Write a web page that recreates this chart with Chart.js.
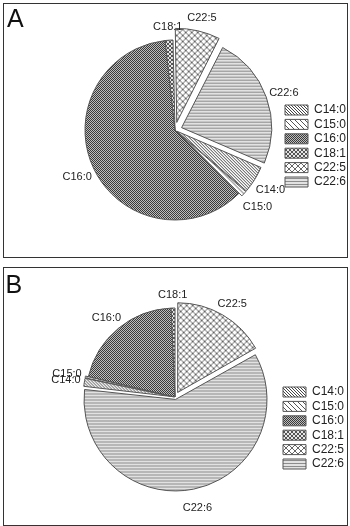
<!DOCTYPE html>
<html lang="en">
<head>
    <meta charset="UTF-8">
    <title>Fatty acid composition</title>
    <script src="https://cdn.jsdelivr.net/npm/chart.js"></script>
    <style>
        body { margin: 0; background: #fff; width: 350px; height: 526px; overflow: hidden; position: relative; }
        .panel { position: absolute; left: 3px; width: 343px; border: 1px solid #333; }
        #panel-a { top: 3px; height: 253px; }
        #panel-b { top: 267px; height: 257px; }
        canvas { display: block; }
    </style>
</head>
<body>
<div class="panel" id="panel-a"><canvas id="chart-a" width="343" height="253"></canvas></div>
<div class="panel" id="panel-b"><canvas id="chart-b" width="343" height="257"></canvas></div>

<script>
    // fatty acid share (%)
    const fattyAcids = ['C14:0', 'C15:0', 'C16:0', 'C18:1', 'C22:5', 'C22:6'];
    const percentA = [4.9, 1.1, 60.8, 1.4, 7.9, 23.9];
    const percentB = [1.5, 0.4, 20.6, 0.7, 16.8, 60.0];

    const FONT = "'Liberation Sans', Arial, sans-serif";

    function tile(ctx, n, draw) {
        const c = document.createElement('canvas');
        c.width = n; c.height = n;
        const g = c.getContext('2d');
        draw(g, n);
        return ctx.createPattern(c, 'repeat');
    }

    function hatchPatterns(ctx) {
        const diag = (n, col) => tile(ctx, n, (g) => {
            g.fillStyle = '#fff'; g.fillRect(0, 0, n, n);
            g.fillStyle = col;
            for (let i = 0; i < n; i++) g.fillRect(i, i, 1, 1);
        });
        const cross = (n, bg, col) => tile(ctx, n, (g) => {
            g.fillStyle = bg; g.fillRect(0, 0, n, n);
            g.fillStyle = col;
            for (let i = 0; i < n; i++) { g.fillRect(i, i, 1, 1); g.fillRect(i, n - 1 - i, 1, 1); }
        });
        const checker = tile(ctx, 2, (g) => {
            g.fillStyle = '#bdbdbd'; g.fillRect(0, 0, 2, 2);
            g.fillStyle = '#3a3a3a'; g.fillRect(0, 0, 1, 1); g.fillRect(1, 1, 1, 1);
        });
        const stripes = tile(ctx, 3, (g) => {
            g.fillStyle = '#e2e2e2'; g.fillRect(0, 0, 3, 3);
            g.fillStyle = '#8c8c8c'; g.fillRect(0, 0, 3, 1);
        });
        return [diag(3, '#444'), diag(5, '#555'), checker, cross(4, '#e6e6e6', '#555'), cross(6, '#fff', '#666'), stripes];
    }

    // same shift as ArcElement.draw applies for an offset
    function arcShift(arc) {
        const off = arc.options.offset || 0;
        const circ = arc.endAngle - arc.startAngle;
        return off / 4 * (2 - Math.sin(Math.min(Math.PI, circ)));
    }

    const sliceLabels = {
        id: 'sliceLabels',
        afterDatasetsDraw(chart) {
            const ctx = chart.ctx;
            const meta = chart.getDatasetMeta(0);
            ctx.save();
            ctx.font = '11px ' + FONT;
            ctx.fillStyle = '#222';
            ctx.textAlign = 'center';
            ctx.textBaseline = 'middle';
            meta.data.forEach((arc, i) => {
                const mid = (arc.startAngle + arc.endAngle) / 2;
                const dx = Math.cos(mid), dy = Math.sin(mid);
                const r = arc.outerRadius + arcShift(arc) + 2;
                const text = chart.data.labels[i];
                const w = ctx.measureText(text).width;
                const x = arc.x + dx * r + dx * (w / 2 + 2);
                const y = arc.y + dy * r + dy * (dy > 0 ? 17 : 11);
                ctx.fillText(text, x, y);
            });
            ctx.restore();
        }
    };

    const panelLetter = {
        id: 'panelLetter',
        afterDraw(chart, args, opts) {
            const ctx = chart.ctx;
            ctx.save();
            ctx.font = '25px ' + FONT;
            ctx.fillStyle = '#111';
            ctx.textBaseline = 'alphabetic';
            ctx.fillText(opts.text, opts.x, opts.y);
            ctx.restore();
        }
    };

    function pieChart(id, values, cfg) {
        const ctx = document.getElementById(id).getContext('2d');
        return new Chart(ctx, {
            type: 'pie',
            data: {
                labels: fattyAcids,
                datasets: [{
                    data: values,
                    backgroundColor: hatchPatterns(ctx),
                    borderColor: '#555',
                    borderWidth: 1,
                    offset: cfg.offset
                }]
            },
            options: {
                responsive: false,
                animation: false,
                events: [],
                rotation: cfg.rotation,
                radius: cfg.radius,
                layout: { padding: cfg.padding },
                plugins: {
                    tooltip: { enabled: false },
                    panelLetter: cfg.letter,
                    legend: {
                        position: 'right',
                        align: 'start',
                        maxWidth: cfg.legendWidth,
                        title: {
                            display: true,
                            text: ' ',
                            font: { size: 10, lineHeight: 1 },
                            padding: { top: cfg.legendTop, bottom: 0 }
                        },
                        labels: {
                            boxWidth: 23,
                            boxHeight: 10,
                            padding: 2.4,
                            color: '#222',
                            font: { size: 12, family: FONT }
                        }
                    }
                }
            },
            plugins: [sliceLabels, panelLetter]
        });
    }

    pieChart('chart-a', percentA, {
        rotation: 113.2,
        radius: 90,
        offset: [9, 8, 0, 0, 31, 28],
        padding: { left: 63.4, right: 0, top: 0, bottom: 1 },
        legendWidth: 64.4,
        legendTop: 87.6,
        letter: { text: 'A', x: 3, y: 23 }
    });

    pieChart('chart-b', percentB, {
        rotation: 276.5,
        radius: 89,
        offset: [6, 6, 0, 0, 21, 10],
        padding: { left: 65.4, right: 0, top: 1, bottom: 0 },
        legendWidth: 66.4,
        legendTop: 104.6,
        letter: { text: 'B', x: 1.5, y: 24.7 }
    });
</script>
</body>
</html>
